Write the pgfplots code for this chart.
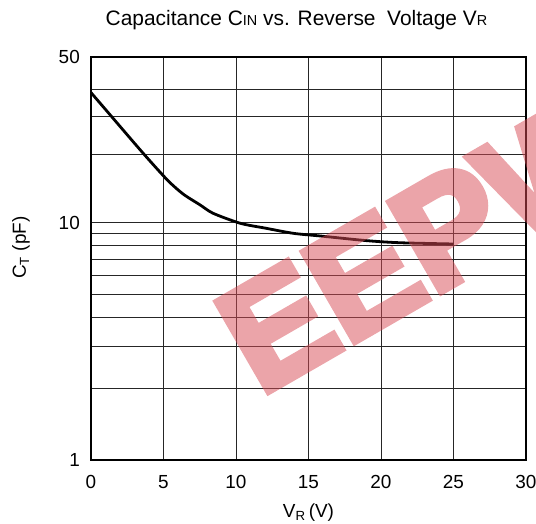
\documentclass[border=0pt]{standalone}
\usepackage{pgfplots}
\pgfplotsset{compat=1.18}
\usepackage{fontspec}
\setmainfont{Liberation Sans}
\newfontfamily\wmfont[FakeBold=5]{Liberation Sans Bold}
\definecolor{wm}{RGB}{216,76,86}
\begin{document}
\begin{tikzpicture}
\begin{axis}[
 name=ax, at={(0,0)}, anchor=south west,
 scale only axis, width=435bp, height=403bp,
 xmin=0, xmax=30, ymin=1, ymax=50, ymode=log,
 xtick={0,5,...,30},
 ytick={1,10,50}, yticklabels={1,10,50},
 minor ytick={2,3,4,5,6,7,8,9,19.5,28,36.6},
 xmajorgrids, ymajorgrids, yminorgrids,
 major tick length=0pt, minor tick length=0pt,
 major grid style={black!85, line width=0.75bp},
 minor grid style={black!85, line width=0.75bp},
 axis line style={line width=1.6bp},
 tick label style={font=\fontsize{19}{22}\selectfont, inner sep=0pt},
 /pgf/number format/assume math mode=true,
 xticklabel style={anchor=base, yshift=-28bp},
 yticklabel style={anchor=east, xshift=-11bp},
 title={Capacitance C{\fontsize{14.5}{16}\selectfont IN} vs. Reverse\ \ Voltage V{\fontsize{14.5}{16}\selectfont R}},
 title style={font=\fontsize{21}{24}\selectfont, at={(axis description cs:0.5,1)}, anchor=base, yshift=26bp, xshift=-12bp},
 xlabel={V\textsubscript{R}\,(V)},
 xlabel style={font=\fontsize{19}{22}\selectfont, at={(axis description cs:0.5,0)}, anchor=base, yshift=-57bp},
 ylabel={C\textsubscript{T} (pF)},
 ylabel style={font=\fontsize{19}{22}\selectfont, at={(axis description cs:-0.161,0.527)}, anchor=center},
]
\addplot[black, line width=2.8bp, smooth, tension=0.45] coordinates {
 (0,35.4) (1.43,28.0) (3.61,19.6) (5.29,15.1) (6.37,13.2) (7.52,11.9)
 (8.43,10.96) (10.3,9.95) (12,9.5) (13.95,9.03) (15.8,8.80) (19.0,8.41)
 (21.3,8.24) (25,8.14)
};
\end{axis}
\begin{scope}[transparency group, opacity=0.51]
\node[rotate=30, text=wm, font=\fontsize{150}{150}\wmfont, inner sep=0pt]
  at ([xshift=334bp,yshift=218.5bp]ax.south west) {EEPW};
\end{scope}
\pgfresetboundingbox
\path[use as bounding box] ([xshift=-91bp,yshift=-64bp]ax.south west) rectangle ([xshift=10bp,yshift=57bp]ax.north east);
\end{tikzpicture}
\end{document}
